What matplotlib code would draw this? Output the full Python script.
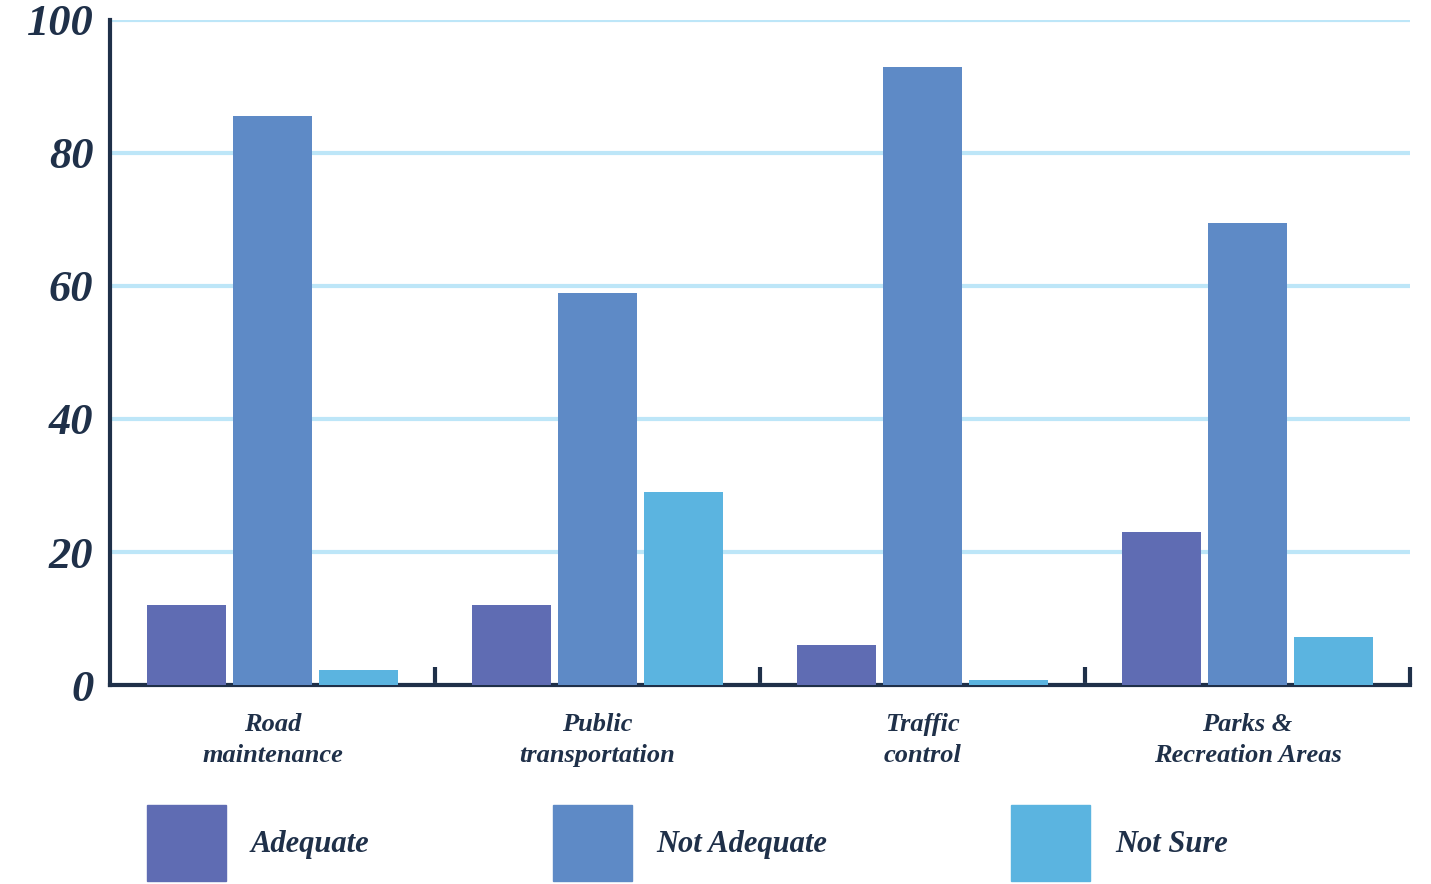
import matplotlib.pyplot as plt
import numpy as np
from matplotlib.patches import Patch

categories = ['Road\nmaintenance', 'Public\ntransportation', 'Traffic\ncontrol', 'Parks &\nRecreation Areas']
series = ['Adequate', 'Not Adequate', 'Not Sure']
adequate = [12, 12, 6, 23]
not_adequate = [85.5, 59, 93, 69.5]
not_sure = [2.3, 29, 0.8, 7.2]
colors = ['#5f6cb3', '#5e8ac6', '#5bb4e0']

text_color = '#1f3049'
plt.rcParams['font.family'] = ['Liberation Serif', 'DejaVu Serif']

fig = plt.figure(figsize=(14.31, 8.84), dpi=100)
ax = fig.add_axes([0.0769, 0.2251, 0.9084, 0.7523])

x = np.arange(len(categories))
width = 0.243
step = 0.266
for i, (vals, name) in enumerate(zip([adequate, not_adequate, not_sure], series)):
    ax.bar(x + (i - 1) * step, vals, width, color=colors[i], label=name, zorder=3)

ax.set_xlim(-0.5, 3.5)
ax.set_ylim(0, 100)
ax.set_yticks([0, 20, 40, 60, 80, 100])
ax.yaxis.grid(True, color='#bde6f8', linewidth=3, zorder=0)
ax.set_axisbelow(True)

for s in ['top', 'right']:
    ax.spines[s].set_visible(False)
for s in ['left', 'bottom']:
    ax.spines[s].set_color(text_color)
    ax.spines[s].set_linewidth(3)

ax.set_xticks(x)
ax.set_xticklabels(categories, fontsize=19, fontweight='bold', fontstyle='italic',
                   color=text_color, linespacing=1.45)
ax.tick_params(axis='x', which='major', length=0, pad=20)
ax.set_xticks(x + 0.5, minor=True)
ax.tick_params(axis='x', which='minor', direction='in', length=13, width=3, color=text_color)
ax.tick_params(axis='y', length=0, pad=12)
for lbl in ax.get_yticklabels():
    lbl.set_fontsize(32)
    lbl.set_fontweight('bold')
    lbl.set_fontstyle('italic')
    lbl.set_color(text_color)

handles = [Patch(color=c) for c in colors]
leg = fig.legend(handles, series, loc='upper left', bbox_to_anchor=(147 / 1431, 1 - 805 / 884),
                 ncol=3, frameon=False, handlelength=2.6, handleheight=3.45,
                 handletextpad=0.8, columnspacing=6.0, borderpad=0, borderaxespad=0,
                 prop={'weight': 'bold', 'style': 'italic', 'size': 22})
for t in leg.get_texts():
    t.set_color(text_color)

fig.savefig('out.png', dpi=100)
